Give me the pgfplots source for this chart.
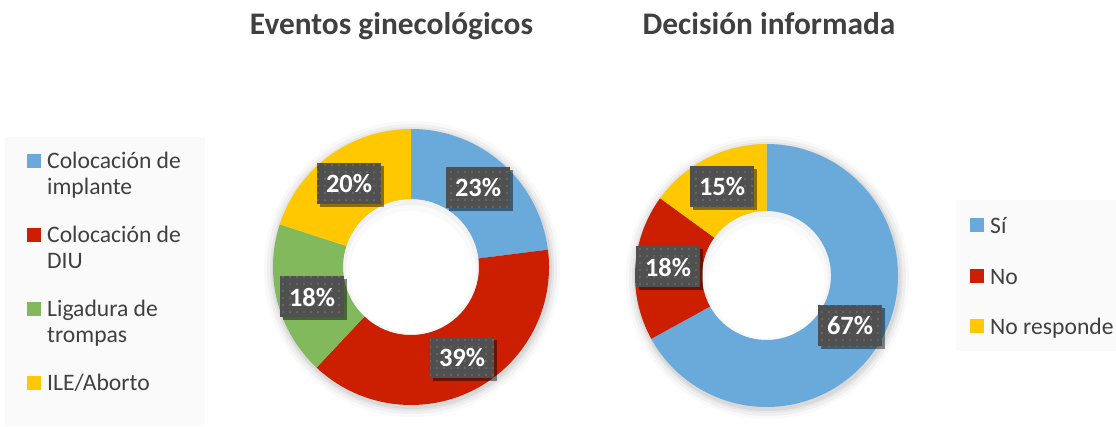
\documentclass[border=0pt]{standalone}
\usepackage{pgfplots}
\pgfplotsset{compat=1.18}
\usepackage{pgfplotstable}
\usepackage{fontspec}
\setmainfont{Carlito}
\usetikzlibrary{shadows,patterns}
\definecolor{cbl}{HTML}{6AAADB}
\definecolor{crd}{HTML}{CC1E00}
\definecolor{cgr}{HTML}{82B95C}
\definecolor{cyl}{HTML}{FFC800}
\definecolor{ctxt}{HTML}{404040}
\definecolor{cbox}{HTML}{505050}
\definecolor{cdot}{HTML}{646464}
\definecolor{clegbg}{HTML}{FAFAFA}

\pgfdeclarepatternformonly{boxdots}{\pgfpointorigin}{\pgfqpoint{7bp}{7bp}}{\pgfqpoint{7bp}{7bp}}{%
  \pgfpathrectangle{\pgfqpoint{2.5bp}{2.5bp}}{\pgfqpoint{2bp}{2bp}}\pgfusepath{fill}}

\pgfplotstableread{
label value color lx ly
implante 23 cbl 478 188
DIU 39 crd 462 358
ligadura 18 cgr 312 297
ILE 20 cyl 349 184
}\tabA
\pgfplotstableread{
label value color lx ly
si 67 cbl 850 326
no 18 crd 668 267
noresp 15 cyl 722 187
}\tabB

\newcommand\donut[5]{%
  \pgfplotstablegetrowsof{#1}\pgfmathtruncatemacro\N{\pgfplotsretval-1}%
  \def\acc{90}%
  \pgfplotsforeachungrouped \i in {0,...,\N}{%
    \pgfplotstablegetelem{\i}{value}\of{#1}\let\v\pgfplotsretval
    \pgfplotstablegetelem{\i}{color}\of{#1}\let\c\pgfplotsretval
    \pgfmathsetmacro\aend{\acc-3.6*\v}%
    \edef\cmd{\noexpand\fill[\c] ([shift={(\acc:#4bp)}]axis cs:#2,#3) arc[start angle=\acc,end angle=\aend,radius=#4bp] -- ([shift={(\aend:#5bp)}]axis cs:#2,#3) arc[start angle=\aend,end angle=\acc,radius=#5bp] -- cycle;}%
    \cmd
    \let\acc\aend
  }%
  \pgfplotsforeachungrouped \i in {0,...,\N}{%
    \pgfplotstablegetelem{\i}{value}\of{#1}\let\v\pgfplotsretval
    \pgfplotstablegetelem{\i}{lx}\of{#1}\let\lx\pgfplotsretval
    \pgfplotstablegetelem{\i}{ly}\of{#1}\let\ly\pgfplotsretval
    \pgfmathsetmacro\lyy{427-\ly}%
    \edef\cmd{\noexpand\node[lbl] at (axis cs:\lx,\lyy) {\v\noexpand\%};}%
    \cmd
  }%
}

\begin{document}
\begin{tikzpicture}[
  lbl/.style={fill=cbox, text=white, font=\fontsize{26.5}{30}\selectfont\bfseries,
    minimum width=64bp, minimum height=41bp, inner sep=0pt,
    postaction={pattern=boxdots, pattern color=cdot},
    drop shadow={shadow xshift=2.5bp, shadow yshift=-2.5bp, opacity=0.45, fill=black}},
  leg/.style={text=ctxt, font=\fontsize{23.7}{26}\selectfont, anchor=base west, inner sep=0pt, align=left},
  ttl/.style={text=ctxt, font=\fontsize{31.5}{36}\selectfont\bfseries, anchor=base, inner sep=0pt}
]
\begin{axis}[
  width=1116bp, height=427bp, scale only axis,
  xmin=0, xmax=1116, ymin=0, ymax=427,
  hide axis, clip=false
]
\path (axis cs:0,0) (axis cs:1116,427);
% legend backgrounds
\fill[clegbg] (axis cs:5,1) rectangle (axis cs:205,290);
\fill[clegbg] (axis cs:956,76) rectangle (axis cs:1116,227);
% donut shadows
\fill[black, opacity=0.025] (axis cs:412,158) circle[radius=148bp];
\fill[black, opacity=0.035] (axis cs:412,158) circle[radius=145bp];
\fill[black, opacity=0.045] (axis cs:412,158) circle[radius=142bp];
\fill[black, opacity=0.055] (axis cs:412,158) circle[radius=140bp];
\fill[black, opacity=0.025] (axis cs:767.5,149.5) circle[radius=141.5bp];
\fill[black, opacity=0.035] (axis cs:767.5,149.5) circle[radius=138.5bp];
\fill[black, opacity=0.045] (axis cs:767.5,149.5) circle[radius=135.5bp];
\fill[black, opacity=0.055] (axis cs:767.5,149.5) circle[radius=133.5bp];
% inner hole shading
\fill[black!5] (axis cs:411,160) circle[radius=68bp];
\fill[black!2] (axis cs:411,157) circle[radius=65bp];
\fill[white] (axis cs:411,155) circle[radius=61bp];
\fill[black!5] (axis cs:766.5,151.5) circle[radius=64.5bp];
\fill[black!2] (axis cs:766.5,148.5) circle[radius=61.5bp];
\fill[white] (axis cs:766.5,146.5) circle[radius=57.5bp];
\donut{\tabA}{411}{160}{138}{68}
\donut{\tabB}{766.5}{151.5}{131.5}{64.5}
% titles
\node[ttl] at (axis cs:391.5,392) {Eventos ginecológicos};
\node[ttl] at (axis cs:769,392) {Decisión informada};
% left legend
\fill[cbl] (axis cs:27,259) rectangle (axis cs:41,273);
\node[leg] at (axis cs:47,258) {Colocación de};
\node[leg] at (axis cs:47,232) {implante};
\fill[crd] (axis cs:27,185) rectangle (axis cs:41,199);
\node[leg] at (axis cs:47,184) {Colocación de};
\node[leg] at (axis cs:47,158) {DIU};
\fill[cgr] (axis cs:27,111) rectangle (axis cs:41,125);
\node[leg] at (axis cs:47,110) {Ligadura de};
\node[leg] at (axis cs:47,84) {trompas};
\fill[cyl] (axis cs:27,37) rectangle (axis cs:41,51);
\node[leg] at (axis cs:47,36) {ILE/Aborto};
% right legend
\fill[cbl] (axis cs:970,195) rectangle (axis cs:984,209);
\node[leg] at (axis cs:990,193) {Sí};
\fill[crd] (axis cs:970,144) rectangle (axis cs:984,158);
\node[leg] at (axis cs:990,142) {No};
\fill[cyl] (axis cs:970,94) rectangle (axis cs:984,108);
\node[leg] at (axis cs:990,92) {No responde};
\end{axis}
\end{tikzpicture}
\end{document}
